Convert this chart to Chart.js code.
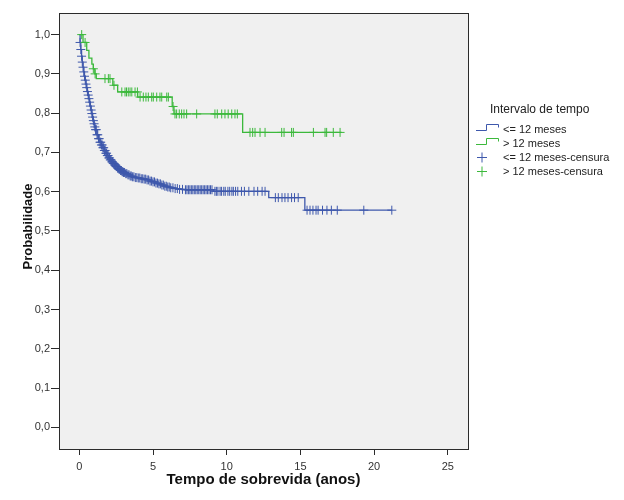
<!DOCTYPE html>
<html>
<head>
<meta charset="utf-8">
<script src="https://cdn.jsdelivr.net/npm/chart.js@4.4.1/dist/chart.umd.min.js"></script>
<style>
  html, body { margin: 0; padding: 0; background: #ffffff; }
  #wrap { width: 624px; height: 500px; position: relative; }
</style>
</head>
<body>
<div id="wrap"><canvas id="c" width="624" height="500"></canvas></div>
<script>
// ---- Data (Kaplan-Meier curves) ----
const legendTitle = "Intervalo de tempo";
const seriesNames = ["<= 12 meses", "> 12 meses", "<= 12 meses-censura", "> 12 meses-censura"];
const xTitle = "Tempo de sobrevida (anos)";
const yTitle = "Probabilidade";

// <= 12 meses : step times (years) and survival after each step
const blueTimes = [0, 0.05, 0.1, 0.15, 0.2, 0.25, 0.3, 0.35, 0.4, 0.45, 0.5, 0.55, 0.6, 0.65, 0.7, 0.75, 0.8, 0.85, 0.9, 0.95, 1.0, 1.05, 1.1, 1.2, 1.3, 1.4, 1.5, 1.6, 1.7, 1.8, 1.9, 2.0, 2.1, 2.2, 2.3, 2.4, 2.5, 2.6, 2.7, 2.8, 2.9, 3.0, 3.15, 3.3, 3.45, 3.6, 3.8, 4.0, 4.2, 4.4, 4.6, 4.8, 5.0, 5.2, 5.4, 5.6, 5.8, 6.0, 6.2, 6.5, 6.8, 7.2, 9.1, 12.85, 15.3, 21.2];
const blueSurv  = [1.0, 0.98, 0.962, 0.945, 0.93, 0.917, 0.905, 0.894, 0.884, 0.874, 0.865, 0.855, 0.846, 0.837, 0.828, 0.818, 0.808, 0.799, 0.79, 0.781, 0.773, 0.765, 0.758, 0.745, 0.735, 0.726, 0.719, 0.712, 0.705, 0.698, 0.692, 0.686, 0.681, 0.676, 0.672, 0.668, 0.664, 0.660, 0.657, 0.654, 0.651, 0.649, 0.646, 0.643, 0.640, 0.638, 0.636, 0.635, 0.633, 0.632, 0.630, 0.627, 0.625, 0.622, 0.620, 0.617, 0.614, 0.612, 0.610, 0.608, 0.606, 0.605, 0.601, 0.585, 0.553, 0.553];

// > 12 meses
const greenTimes = [0, 0.25, 0.5, 0.65, 0.85, 0.95, 1.05, 1.15, 2.27, 2.6, 3.96, 6.3, 6.42, 11.08, 17.8];
const greenSurv  = [1.0, 0.98, 0.96, 0.94, 0.925, 0.913, 0.9, 0.888, 0.871, 0.854, 0.841, 0.817, 0.798, 0.751, 0.751];

// censored observations (+ marks)
const blueCensTimes = [0.05, 0.1, 0.15, 0.2, 0.25, 0.3, 0.35, 0.4, 0.45, 0.5, 0.55, 0.6, 0.65, 0.7, 0.75, 0.8, 0.85, 0.9, 0.95, 1.0, 1.05, 1.1, 1.2, 1.3, 1.4, 1.5, 1.6, 1.7, 1.8, 1.9, 2.0, 2.1, 2.2, 2.3, 2.4, 2.5, 2.6, 2.7, 2.8, 2.9, 3.0, 3.15, 3.3, 3.45, 3.6, 3.8, 4.0, 4.2, 4.4, 4.6, 4.8, 5.0, 5.2, 5.4, 5.6, 5.8, 6.0, 6.2, 6.5, 6.8, 7.2, 7.4, 7.6, 7.8, 8.0, 8.2, 8.4, 8.6, 8.8, 9.0, 9.3, 9.55, 9.8, 10.08, 10.35, 10.6, 11.2, 11.5, 11.85, 12.1, 12.4, 12.6, 13.3, 13.5, 13.75, 13.95, 14.16, 14.4, 14.6, 14.85, 15.45, 15.65, 15.85, 16.06, 16.2, 16.5, 16.8, 17.1, 17.5, 19.3, 21.2,
  1.15, 1.25, 1.35, 1.45, 1.55, 1.65, 1.75, 1.85, 1.95, 2.05, 2.15, 2.25, 2.35, 2.45, 2.55, 2.65, 2.75, 2.85, 2.95,
  3.07, 3.22, 3.37, 3.52, 3.7, 3.9, 4.1, 4.3, 4.5, 4.7, 4.9, 5.1, 5.3, 5.5, 5.7, 5.9, 6.1, 6.35, 6.65, 7.0, 7.3, 7.5, 7.7, 7.9, 8.1, 8.3, 8.5, 8.7, 8.9, 9.2, 9.4, 9.65, 9.9, 10.2, 10.45, 10.75, 11.0];
const blueCensSurv  = [0.98, 0.962, 0.945, 0.93, 0.917, 0.905, 0.894, 0.884, 0.874, 0.865, 0.855, 0.846, 0.837, 0.828, 0.818, 0.808, 0.799, 0.79, 0.781, 0.773, 0.765, 0.758, 0.745, 0.735, 0.726, 0.719, 0.712, 0.705, 0.698, 0.692, 0.686, 0.681, 0.676, 0.672, 0.668, 0.664, 0.660, 0.657, 0.654, 0.651, 0.649, 0.646, 0.643, 0.640, 0.638, 0.636, 0.635, 0.633, 0.632, 0.630, 0.627, 0.625, 0.622, 0.620, 0.617, 0.614, 0.612, 0.610, 0.608, 0.606, 0.605, 0.605, 0.605, 0.605, 0.605, 0.605, 0.605, 0.605, 0.605, 0.605, 0.601, 0.601, 0.601, 0.601, 0.601, 0.601, 0.601, 0.601, 0.601, 0.601, 0.601, 0.601, 0.585, 0.585, 0.585, 0.585, 0.585, 0.585, 0.585, 0.585, 0.553, 0.553, 0.553, 0.553, 0.553, 0.553, 0.553, 0.553, 0.553, 0.553, 0.553,
  0.758, 0.745, 0.735, 0.726, 0.719, 0.712, 0.705, 0.698, 0.692, 0.686, 0.681, 0.676, 0.672, 0.668, 0.664, 0.660, 0.657, 0.654, 0.651,
  0.649, 0.646, 0.643, 0.640, 0.638, 0.636, 0.635, 0.633, 0.632, 0.630, 0.627, 0.625, 0.622, 0.620, 0.617, 0.614, 0.612, 0.610, 0.608, 0.606, 0.605, 0.605, 0.605, 0.605, 0.605, 0.605, 0.605, 0.605, 0.605, 0.601, 0.601, 0.601, 0.601, 0.601, 0.601, 0.601, 0.601];

const greenCensTimes = [0.16, 0.39, 0.95, 1.07, 1.74, 1.97, 2.08, 2.35, 2.88, 3.1, 3.2, 3.32, 3.44, 3.56, 3.78, 3.94, 4.12, 4.34, 4.52, 4.68, 4.91, 5.02, 5.25, 5.47, 5.59, 5.93, 6.04, 6.36, 6.49, 6.6, 6.78, 6.94, 7.1, 7.28, 7.96, 9.2, 9.36, 9.66, 9.88, 10.1, 10.34, 10.56, 10.72, 11.58, 11.76, 11.92, 12.26, 12.6, 13.73, 13.89, 14.4, 14.52, 15.88, 16.67, 16.78, 17.23, 17.69];
const greenCensSurv  = [1.0, 0.98, 0.913, 0.9, 0.888, 0.888, 0.888, 0.871, 0.854, 0.854, 0.854, 0.854, 0.854, 0.854, 0.854, 0.854, 0.841, 0.841, 0.841, 0.841, 0.841, 0.841, 0.841, 0.841, 0.841, 0.841, 0.841, 0.817, 0.798, 0.798, 0.798, 0.798, 0.798, 0.798, 0.798, 0.798, 0.798, 0.798, 0.798, 0.798, 0.798, 0.798, 0.798, 0.751, 0.751, 0.751, 0.751, 0.751, 0.751, 0.751, 0.751, 0.751, 0.751, 0.751, 0.751, 0.751, 0.751];

const xTickValues = [0, 5, 10, 15, 20, 25];
const yTickValues = [0, 0.1, 0.2, 0.3, 0.4, 0.5, 0.6, 0.7, 0.8, 0.9, 1.0];

// ---- styling ----
const BLUE = '#3e58ac';
const GREEN = '#3cb93c';
const FONT = '"Liberation Sans", Arial, sans-serif';

const pts = (xs, ys) => xs.map((x, i) => ({x: x, y: ys[i]}));

const plotBg = {
  id: 'plotBg',
  beforeDraw(chart) {
    const {ctx, chartArea: a} = chart;
    ctx.save();
    ctx.fillStyle = '#f0f0f0';
    ctx.fillRect(a.left, a.top, a.right - a.left, a.bottom - a.top);
    ctx.restore();
  },
  afterDraw(chart) {
    const {ctx, chartArea: a} = chart;
    ctx.save();
    ctx.strokeStyle = '#2b2b2b';
    ctx.lineWidth = 1;
    ctx.strokeRect(Math.round(a.left) + 0.5, Math.round(a.top) + 0.5, Math.round(a.right - a.left), Math.round(a.bottom - a.top));
    // y axis title
    ctx.save();
    ctx.translate(28, 226.5);
    ctx.rotate(-Math.PI / 2);
    ctx.fillStyle = '#111';
    ctx.font = 'bold 13px ' + FONT;
    ctx.textAlign = 'center';
    ctx.textBaseline = 'middle';
    ctx.fillText(yTitle, 0, 0);
    ctx.restore();
    // legend
    ctx.fillStyle = '#222';
    ctx.textBaseline = 'middle';
    ctx.textAlign = 'left';
    ctx.font = '12px ' + FONT;
    ctx.fillText(legendTitle, 490, 110);
    ctx.font = '11px ' + FONT;
    const icons = [[BLUE, 128], [GREEN, 142]];
    icons.forEach(([col, y]) => {
      ctx.strokeStyle = col;
      ctx.lineWidth = 1;
      ctx.beginPath();
      ctx.moveTo(476, y + 2.5);
      ctx.lineTo(486.5, y + 2.5);
      ctx.lineTo(486.5, y - 3.5);
      ctx.lineTo(498.5, y - 3.5);
      ctx.lineTo(498.5, y - 0.5);
      ctx.stroke();
    });
    ctx.fillText(seriesNames[0], 503, 129.5);
    ctx.fillText(seriesNames[1], 503, 143.5);
    const crosses = [[BLUE, 157.5], [GREEN, 171.5]];
    crosses.forEach(([col, y]) => {
      ctx.strokeStyle = col;
      ctx.beginPath();
      ctx.moveTo(477, y); ctx.lineTo(487, y);
      ctx.moveTo(482, y - 5); ctx.lineTo(482, y + 5);
      ctx.stroke();
    });
    ctx.fillStyle = '#222';
    ctx.fillText(seriesNames[2], 503, 157.5);
    ctx.fillText(seriesNames[3], 503, 171.5);
    ctx.restore();
  }
};

new Chart(document.getElementById('c'), {
  type: 'scatter',
  data: {
    datasets: [
      { label: seriesNames[0], type: 'line', data: pts(blueTimes, blueSurv), borderColor: BLUE, borderWidth: 1.3, stepped: true, pointRadius: 0, fill: false, order: 4 },
      { label: seriesNames[1], type: 'line', data: pts(greenTimes, greenSurv), borderColor: GREEN, borderWidth: 1.3, stepped: true, pointRadius: 0, fill: false, order: 3 },
      { label: seriesNames[2], data: pts(blueCensTimes, blueCensSurv), pointStyle: 'cross', pointRadius: 4.5, borderColor: BLUE, backgroundColor: BLUE, pointBorderWidth: 1, order: 2 },
      { label: seriesNames[3], data: pts(greenCensTimes, greenCensSurv), pointStyle: 'cross', pointRadius: 4.5, borderColor: GREEN, backgroundColor: GREEN, pointBorderWidth: 1, order: 1 }
    ]
  },
  options: {
    responsive: false,
    animation: false,
    events: [],
    layout: { padding: { left: 0, top: 13, right: 156, bottom: 0 } },
    plugins: { legend: { display: false }, tooltip: { enabled: false } },
    scales: {
      x: {
        type: 'linear', min: -1.38, max: 26.37,
        afterFit: s => { s.height = 51; },
        afterBuildTicks: s => { s.ticks = xTickValues.map(v => ({value: v})); },
        grid: { drawOnChartArea: false, drawTicks: true, tickLength: 6, color: '#2b2b2b', tickWidth: 1 },
        border: { display: true, color: '#2b2b2b', width: 1 },
        ticks: { color: '#333', font: { family: FONT, size: 11 }, padding: 5, maxRotation: 0, callback: v => String(v) },
        title: { display: true, text: xTitle, color: '#111', font: { family: FONT, size: 15, weight: 'bold' }, padding: { top: 0, bottom: 11 } }
      },
      y: {
        type: 'linear', min: -0.055, max: 1.055,
        afterFit: s => { s.width = 59; },
        afterBuildTicks: s => { s.ticks = yTickValues.map(v => ({value: v})); },
        grid: { drawOnChartArea: false, drawTicks: true, tickLength: 8, color: '#2b2b2b', tickWidth: 1 },
        border: { display: true, color: '#2b2b2b', width: 1 },
        ticks: { color: '#333', font: { family: FONT, size: 11 }, padding: 1, callback: v => v.toFixed(1).replace('.', ',') },
        title: { display: false }
      }
    }
  },
  plugins: [plotBg]
});
</script>
</body>
</html>
